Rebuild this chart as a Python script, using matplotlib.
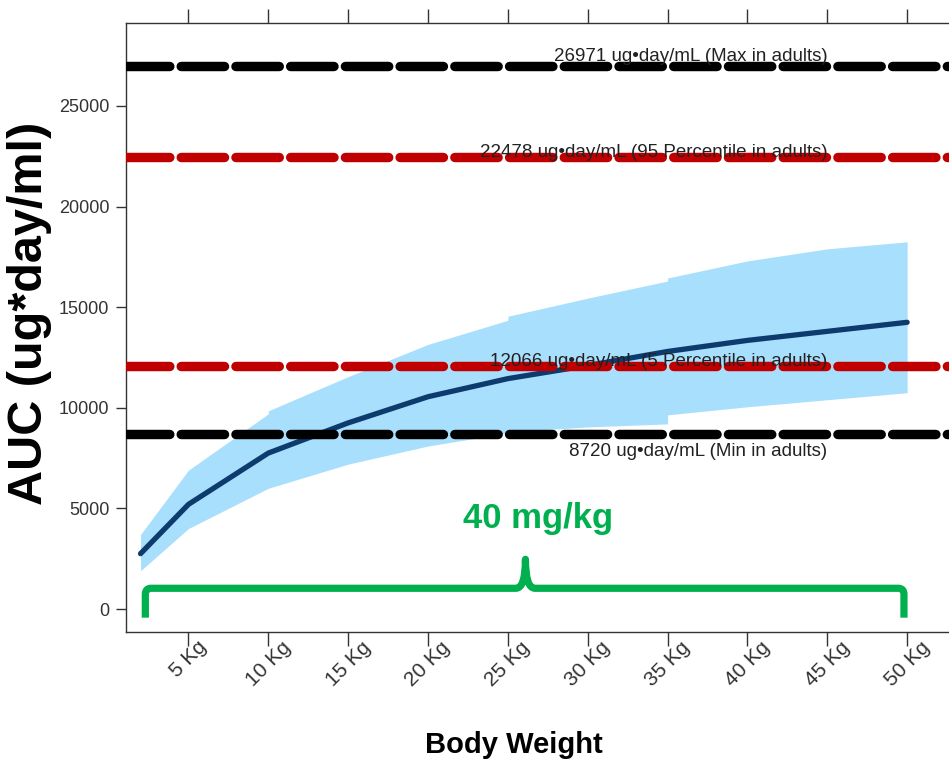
import numpy as np
import matplotlib
matplotlib.use("Agg")
import matplotlib.pyplot as plt
from matplotlib.path import Path
from matplotlib.patches import PathPatch

FONT = ["Liberation Sans", "DejaVu Sans"]

# median AUC by body weight
weight = [2, 5, 10, 15, 20, 25, 30, 35, 40, 45, 50]
auc_median = [2750, 5200, 7750, 9250, 10550, 11450, 12100, 12800, 13350, 13800, 14250]

# 90% band (steps where the dose groups change)
band_weight = [2, 5, 10, 10, 15, 20, 25, 25, 30, 35, 35, 40, 45, 50]
band_upper = [3700, 6900, 9700, 9850, 11550, 13150, 14350, 14550, 15450, 16300, 16450, 17300, 17900, 18250]
band_lower = [1900, 4000, 6000, 6000, 7200, 8100, 8750, 8800, 9050, 9200, 9650, 10050, 10400, 10750]

# adult reference lines
ref_values = [26971, 22478, 12066, 8720]
ref_names = ["Max in adults", "95 Percentile in adults", "5 Percentile in adults", "Min in adults"]
ref_colors = ["black", "#C00000", "#C00000", "black"]

xticks = [5, 10, 15, 20, 25, 30, 35, 40, 45, 50]
xtick_labels = [f"{v} Kg" for v in xticks]
yticks = [0, 5000, 10000, 15000, 20000, 25000]

dose_label = "40 mg/kg"
brace_x = (2.3, 26.1, 49.8)       # left end, spike, right end
brace_y = (-430, 1030, 2470)      # end bottom, bar level, spike top

fig = plt.figure(figsize=(9.49, 7.62), dpi=100)
ax = fig.add_axes([126 / 949, 130 / 762, 823 / 949, 609 / 762])
ax.set_xlim(1.09, 52.62)
ax.set_ylim(-1143, 29125)

ax.fill_between(band_weight, band_lower, band_upper, color="#A8DFFC", lw=0, zorder=1)
ax.plot(weight, auc_median, color="#0D3B6E", lw=3.8, solid_capstyle="round", zorder=3)

# dashed adult lines with labels
lw_ref = 6.8
offsets = [5, 0, 0, -9]
vas = ["baseline", "baseline", "baseline", "top"]
for val, name, col, off, va in zip(ref_values, ref_names, ref_colors, offsets, vas):
    ax.axhline(val, color=col, lw=lw_ref, dashes=(31.2 / lw_ref, 8.2 / lw_ref),
               dash_capstyle="round", zorder=4)
    ax.annotate(f"{val} ug\u2022day/mL ({name})", xy=(45, val), xytext=(0, off),
                textcoords="offset pixels", ha="right", va=va, fontsize=13.5,
                family=FONT, color="#222222", zorder=5)

# brace for the dose range
x0, xm, x1 = brace_x
ylow, ylev, ypk = brace_y
rx, ry = 0.35, 300
verts = [(x0, ylow), (x0, ylev - ry), (x0, ylev), (x0 + rx, ylev),
         (xm - 0.6, ylev), (xm, ylev), (xm, ypk), (xm, ylev), (xm + 0.6, ylev),
         (x1 - rx, ylev), (x1, ylev), (x1, ylev - ry), (x1, ylow)]
codes = [Path.MOVETO, Path.LINETO, Path.CURVE3, Path.CURVE3,
         Path.LINETO, Path.CURVE3, Path.CURVE3, Path.CURVE3, Path.CURVE3,
         Path.LINETO, Path.CURVE3, Path.CURVE3, Path.LINETO]
ax.add_patch(PathPatch(Path(verts, codes), fill=False, edgecolor="#00B04F", lw=5.2,
                       capstyle="butt", joinstyle="round", zorder=4))
ax.text(26.92, 4030, dose_label, ha="center", va="baseline", fontsize=25,
        fontweight="bold", family=FONT, color="#00B04F")

# axes styling
for side in ["left", "top", "bottom"]:
    ax.spines[side].set_color("#333333")
    ax.spines[side].set_linewidth(1.0)
ax.spines["right"].set_visible(False)

ax.set_xticks(xticks)
ax.set_xticklabels(xtick_labels, rotation=45, ha="center", family=FONT, fontsize=15,
                   color="#333333")
ax.set_yticks(yticks)
ax.set_yticklabels([str(v) for v in yticks], family=FONT, fontsize=13, color="#333333")
ax.tick_params(axis="x", which="both", top=True, bottom=True, labeltop=False,
               length=10, width=1.0, color="#333333", pad=-6)
ax.tick_params(axis="y", length=7, width=1.0, color="#333333", pad=5)

fig.text(514 / 949, 1 - 753 / 762, "Body Weight", ha="center", va="baseline",
         fontsize=21, fontweight="bold", family=FONT)
fig.text(30 / 949, 1 - 313 / 762, "AUC (ug*day/ml)", rotation=90, ha="center",
         va="center", fontsize=35, fontweight="bold", family=FONT)

fig.savefig("out.png", dpi=100)
